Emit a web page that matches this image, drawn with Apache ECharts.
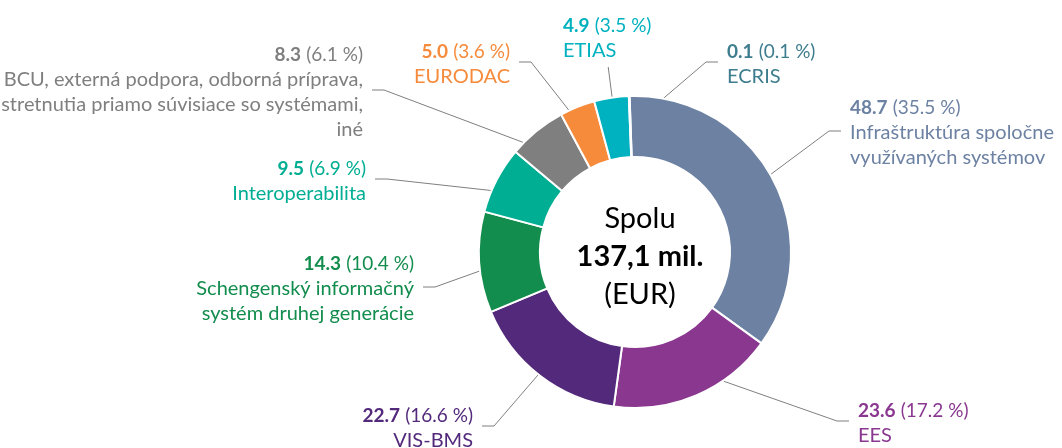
<!DOCTYPE html>
<html>
<head>
<meta charset="utf-8">
<script src="https://cdn.jsdelivr.net/npm/echarts@6/dist/echarts.min.js"></script>
<style>
  html, body { margin: 0; padding: 0; background: #fff; }
  #chart { width: 1062px; height: 448px; }
</style>
</head>
<body>
<div id="chart"></div>
<script>
// data, clockwise from 12 o'clock
var names = [
  'Infraštruktúra spoločne\nvyužívaných systémov',
  'EES',
  'VIS-BMS',
  'Schengenský informačný\nsystém druhej generácie',
  'Interoperabilita',
  'BCU, externá podpora, odborná príprava,\nstretnutia priamo súvisiace so systémami,\niné',
  'EURODAC',
  'ETIAS',
  'ECRIS'
];
var values = [48.7, 23.6, 22.7, 14.3, 9.5, 8.3, 5.0, 4.9, 0.1];
var shares = [35.5, 17.2, 16.6, 10.4, 6.9, 6.1, 3.6, 3.5, 0.1];
var totalText = ['Spolu', '137,1 mil.', '(EUR)'];

var colors = ['#6D82A3', '#8A3790', '#532A7B', '#138D4E', '#00AE93', '#7F7F7F', '#F68B3C', '#00B1BF', '#3E7D8D'];

// geometry of the ring
var CX = 635, CY = 252, R0 = 95, R1 = 156;

// label boxes: anchor x, box middle y, text side ('top' = leader goes to box bottom)
var labelBoxes = [
  [850, 133, 'left'],
  [858, 423, 'left'],
  [473, 428, 'right'],
  [414, 289, 'right'],
  [366, 181, 'right'],
  [363, 92, 'right'],
  [510, 64, 'right'],
  [563, 38, 'top'],
  [727, 64, 'left']
];

var FONT = 'Lato';

function labelText(i) {
  var lines = names[i].split('\n').map(function (l) { return '{n|' + l + '}'; });
  return '{v|' + values[i].toFixed(1) + '} {p|(' + shares[i].toFixed(1) + ' %)}\n' + lines.join('\n');
}

var chart = echarts.init(document.getElementById('chart'));

chart.setOption({
  animation: false,
  title: {
    text: '{a|' + totalText[0] + '}\n{b|' + totalText[1] + '}\n{a|' + totalText[2] + '}',
    left: CX,
    top: CY,
    textAlign: 'center',
    textVerticalAlign: 'middle',
    textStyle: {
      fontWeight: 'normal',
      rich: {
        a: { fontFamily: FONT, fontSize: 29, fontWeight: 'normal', color: '#000', lineHeight: 38, align: 'center' },
        b: { fontFamily: FONT, fontSize: 29, fontWeight: 'bold', color: '#000', lineHeight: 38, align: 'center' }
      }
    }
  },
  series: [{
    type: 'pie',
    center: [CX, CY],
    radius: [R0, R1],
    startAngle: 92,
    clockwise: true,
    avoidLabelOverlap: false,
    emphasis: { disabled: true },
    itemStyle: { borderColor: '#fff', borderWidth: 2 },
    label: {
      show: true,
      position: 'outside',
      overflow: 'none',
      fontFamily: FONT,
      fontSize: 20,
      lineHeight: 25
    },
    labelLine: {
      show: true,
      smooth: false,
      lineStyle: { color: '#7F7F7F', width: 1 }
    },
    labelLayout: function (params) {
      var i = params.dataIndex;
      var box = labelBoxes[i];
      var p0 = params.labelLinePoints[0];
      var k = (R0 + R1) / 2 / R1;
      var start = [CX + (p0[0] - CX) * k, CY + (p0[1] - CY) * k];
      var w = params.labelRect.width, h = params.labelRect.height;
      var pts;
      if (box[2] === 'top') {
        var ex = box[0] + w / 2 + 1, ey = box[1] + h / 2 + 4;
        pts = [start, [ex, ey], [ex, ey]];
      } else {
        var dir = box[2] === 'left' ? -1 : 1;
        var ly = box[1] - 2;
        pts = [start, [box[0] + dir * 21, ly], [box[0] + dir * 9, ly]];
      }
      return {
        x: box[0],
        y: box[1],
        align: box[2] === 'right' ? 'right' : 'left',
        verticalAlign: 'middle',
        labelLinePoints: pts
      };
    },
    data: values.map(function (v, i) {
      var c = colors[i];
      return {
        value: v,
        name: names[i],
        itemStyle: { color: c },
        label: {
          formatter: labelText(i),
          color: c,
          rich: {
            v: { fontFamily: FONT, fontSize: 19, fontWeight: 'bold', color: c, lineHeight: 25 },
            p: { fontFamily: FONT, fontSize: 19, color: c, lineHeight: 25 },
            n: { fontFamily: FONT, fontSize: 20, color: c, lineHeight: 25 }
          }
        }
      };
    })
  }]
});
</script>
</body>
</html>
